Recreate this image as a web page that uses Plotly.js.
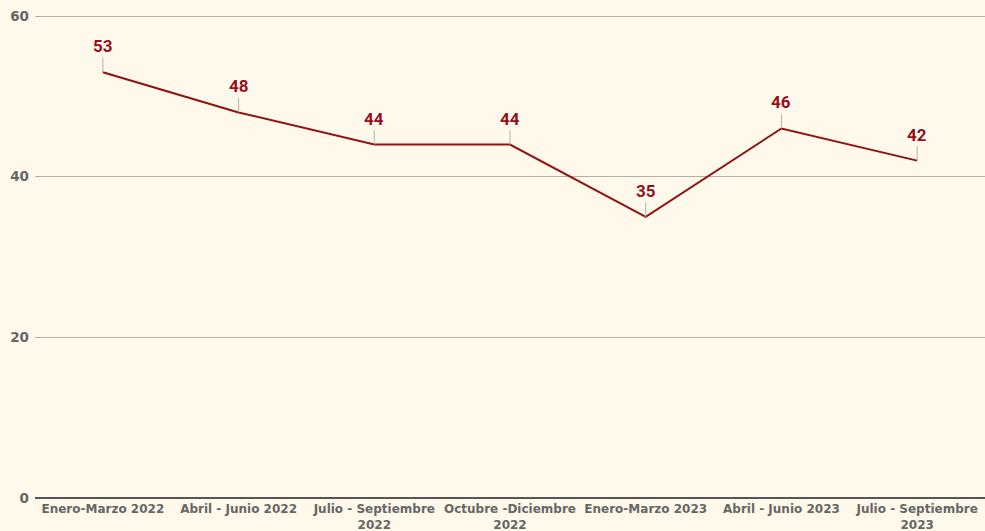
<!DOCTYPE html>
<html>
<head>
<meta charset="utf-8">
<script src="https://cdn.plot.ly/plotly-3.0.1.min.js"></script>
<style>html,body{margin:0;padding:0;background:#fff9ec;}#chart{width:985px;height:531px;}</style>
</head>
<body>
<div id="chart"></div>
<script>
const categories = ["Enero-Marzo 2022","Abril - Junio 2022","Julio - Septiembre<br>2022","Octubre -Diciembre<br>2022","Enero-Marzo 2023","Abril - Junio 2023","Julio - Septiembre<br>2023"];
const values = [53, 48, 44, 44, 35, 46, 42];
const yTicks = [0, 20, 40, 60];

const annotations = categories.map((c, i) => ({
  x: i, y: values[i], xref: 'x', yref: 'y',
  text: String(values[i]),
  showarrow: true, arrowhead: 0, arrowwidth: 1, arrowcolor: '#b5b0a8',
  ax: 0, ay: -26, standoff: 0,
  font: {family: 'Roboto, Arial, sans-serif', size: 17, color: '#990f0f', weight: 700,
         shadow: '1px 1px 1px #fff, -1px -1px 1px #fff, 1px -1px 1px #fff, -1px 1px 1px #fff'}
}));

const trace = {
  x: categories.map((c, i) => i), y: values, type: 'scatter', mode: 'lines',
  line: {color: '#8f1111', width: 2}, hoverinfo: 'skip'
};

const layout = {
  width: 985, height: 531,
  paper_bgcolor: '#fff9ec', plot_bgcolor: '#fff9ec',
  margin: {l: 35, r: 0, t: 8, b: 33},
  showlegend: false,
  xaxis: {
    tickmode: 'array', tickvals: categories.map((c, i) => i), ticktext: categories,
    range: [-0.5, 6.5], showgrid: false, zeroline: false, showline: false, ticks: '',
    tickfont: {family: 'DejaVu Sans, Verdana, sans-serif', size: 12, color: '#666666', weight: 700},
    ticklabelstandoff: 2
  },
  yaxis: {
    range: [0, 61], tickmode: 'array', tickvals: yTicks, ticktext: yTicks.map(String),
    showgrid: true, gridcolor: '#b3b0aa', gridwidth: 1,
    zeroline: true, zerolinecolor: '#555555', zerolinewidth: 1.5, showline: false, ticks: '',
    tickfont: {family: 'DejaVu Sans, Verdana, sans-serif', size: 13.5, color: '#666666', weight: 700},
    ticklabelstandoff: 5
  },
  annotations: annotations
};

Plotly.newPlot('chart', [trace], layout, {displayModeBar: false, staticPlot: true});
</script>
</body>
</html>
